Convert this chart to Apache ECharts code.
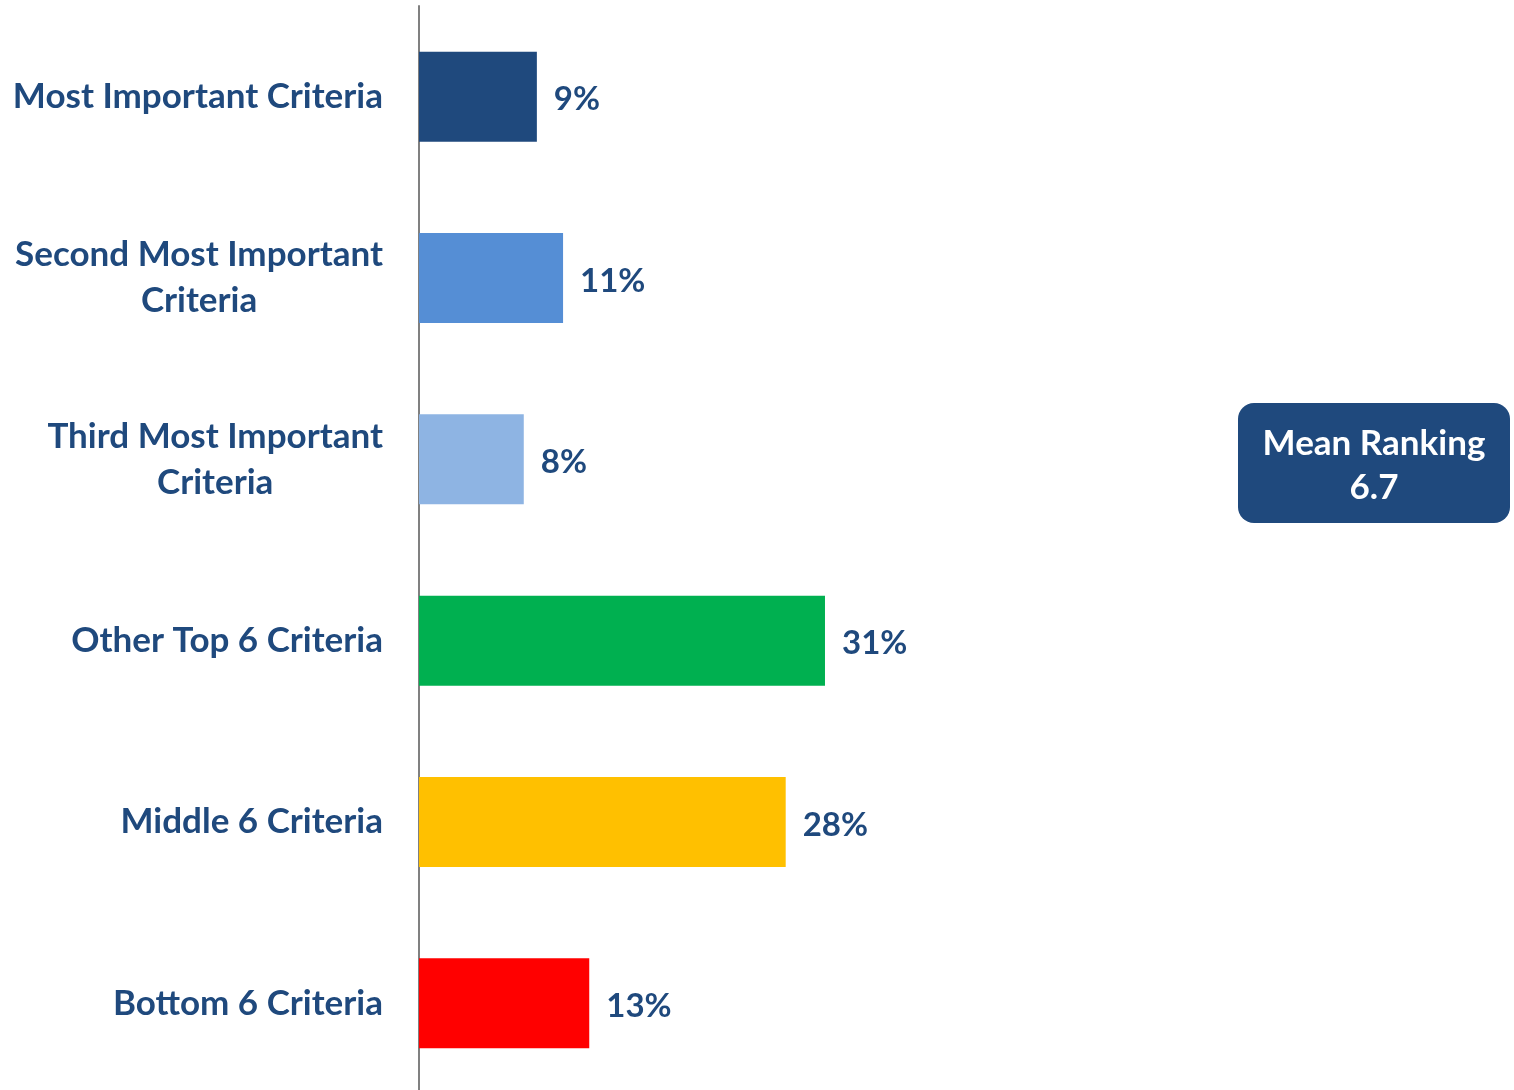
<!DOCTYPE html>
<html>
<head>
<meta charset="utf-8">
<script src="https://cdn.jsdelivr.net/npm/echarts@6/dist/echarts.min.js"></script>
<style>
  html, body { margin: 0; padding: 0; background: #fff; overflow: hidden; }
  #chart { width: 1514px; height: 1100px; }
</style>
</head>
<body>
<div id="chart"></div>
<script>
const categories = [
  "Most Important Criteria",
  "Second Most Important\nCriteria",
  "Third Most Important\nCriteria",
  "Other Top 6 Criteria",
  "Middle 6 Criteria",
  "Bottom 6 Criteria"
];
const values = [9, 11, 8, 31, 28, 13];
const barColors = ["#1F497D", "#558ED5", "#8EB4E3", "#00B050", "#FFC000", "#FF0000"];
const meanLabel = "Mean Ranking";
const meanValue = "6.7";

const textColor = "#1F497D";
const fontFamily = "Lato, 'Open Sans', sans-serif";

const chart = echarts.init(document.getElementById("chart"));
chart.setOption({
  animation: false,
  grid: { left: 419, right: 8, top: 6, height: 1088, containLabel: false },
  xAxis: {
    type: "value",
    min: 0,
    max: 83,
    show: false
  },
  yAxis: {
    type: "category",
    inverse: true,
    data: categories,
    axisLine: { show: true, lineStyle: { color: "#808080", width: 2 } },
    axisTick: { show: false },
    axisLabel: {
      margin: 36,
      align: "right",
      // lines centred inside a right-aligned block
      formatter: (v) => v.split("\n").map((s) => "{c|" + s + "}").join("\n"),
      rich: {
        c: {
          align: "center",
          color: textColor,
          fontFamily: fontFamily,
          fontWeight: "bold",
          fontSize: 35,
          lineHeight: 46
        }
      }
    }
  },
  series: [{
    type: "bar",
    barWidth: 90,
    data: values.map((v, i) => ({ value: v, itemStyle: { color: barColors[i] } })),
    label: {
      show: true,
      position: "right",
      distance: 17,
      offset: [0, 3],
      formatter: "{c}%",
      color: textColor,
      fontFamily: fontFamily,
      fontWeight: "bold",
      fontSize: 33
    }
  }],
  graphic: [{
    type: "group",
    left: 1238,
    top: 403,
    children: [{
      type: "rect",
      shape: { x: 0, y: 0, width: 272, height: 120, r: 16 },
      style: { fill: "#1F497D" }
    }, {
      type: "text",
      x: 136,
      y: 63,
      style: {
        text: meanLabel + "\n" + meanValue,
        fill: "#fff",
        font: "bold 35px " + fontFamily,
        lineHeight: 44,
        align: "center",
        verticalAlign: "middle"
      }
    }]
  }]
});
</script>
</body>
</html>
